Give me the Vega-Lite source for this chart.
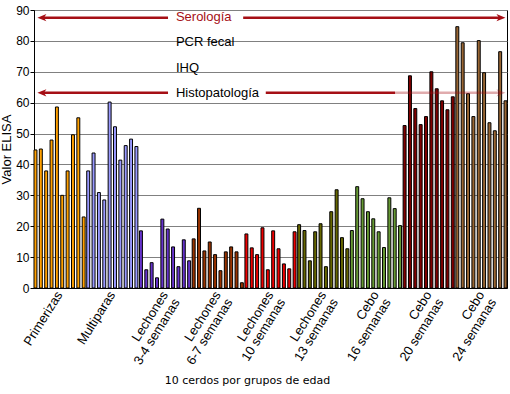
{
  "$schema": "https://vega.github.io/schema/vega-lite/v6.json",
  "width": 473,
  "height": 278,
  "autosize": {"type": "none"},
  "padding": {"left": 34, "top": 10, "right": 3, "bottom": 106},
  "background": "white",
  "config": {
    "view": {"stroke": "black", "strokeWidth": 1},
    "font": "Liberation Sans",
    "axisY": {
      "tickCount": 9,
      "grid": true,
      "gridColor": "#808080",
      "gridOpacity": 1,
      "tickColor": "black",
      "tickSize": 4,
      "domainColor": "black",
      "labelFont": "Liberation Sans",
      "labelFontSize": 12,
      "labelColor": "black",
      "labelPadding": 1,
      "labelOverlap": false,
      "labelFlush": false,
      "titleFont": "Liberation Sans",
      "titleFontSize": 13,
      "titleFontWeight": "normal",
      "titleColor": "black",
      "titlePadding": 2
    }
  },
  "datasets": {
    "elisa": [
      {"grupo": "Primerizas", "cerdo": 1, "elisa": 44.7},
      {"grupo": "Primerizas", "cerdo": 2, "elisa": 45.0},
      {"grupo": "Primerizas", "cerdo": 3, "elisa": 37.9},
      {"grupo": "Primerizas", "cerdo": 4, "elisa": 47.9},
      {"grupo": "Primerizas", "cerdo": 5, "elisa": 58.6},
      {"grupo": "Primerizas", "cerdo": 6, "elisa": 30.0},
      {"grupo": "Primerizas", "cerdo": 7, "elisa": 37.9},
      {"grupo": "Primerizas", "cerdo": 8, "elisa": 49.6},
      {"grupo": "Primerizas", "cerdo": 9, "elisa": 55.1},
      {"grupo": "Primerizas", "cerdo": 10, "elisa": 23.0},
      {"grupo": "Multiparas", "cerdo": 1, "elisa": 37.9},
      {"grupo": "Multiparas", "cerdo": 2, "elisa": 43.7},
      {"grupo": "Multiparas", "cerdo": 3, "elisa": 30.9},
      {"grupo": "Multiparas", "cerdo": 4, "elisa": 28.5},
      {"grupo": "Multiparas", "cerdo": 5, "elisa": 60.2},
      {"grupo": "Multiparas", "cerdo": 6, "elisa": 52.2},
      {"grupo": "Multiparas", "cerdo": 7, "elisa": 41.4},
      {"grupo": "Multiparas", "cerdo": 8, "elisa": 46.1},
      {"grupo": "Multiparas", "cerdo": 9, "elisa": 48.2},
      {"grupo": "Multiparas", "cerdo": 10, "elisa": 45.8},
      {"grupo": "Lechones\n3-4 semanas", "cerdo": 1, "elisa": 18.5},
      {"grupo": "Lechones\n3-4 semanas", "cerdo": 2, "elisa": 5.9},
      {"grupo": "Lechones\n3-4 semanas", "cerdo": 3, "elisa": 8.2},
      {"grupo": "Lechones\n3-4 semanas", "cerdo": 4, "elisa": 3.3},
      {"grupo": "Lechones\n3-4 semanas", "cerdo": 5, "elisa": 22.3},
      {"grupo": "Lechones\n3-4 semanas", "cerdo": 6, "elisa": 19.1},
      {"grupo": "Lechones\n3-4 semanas", "cerdo": 7, "elisa": 13.3},
      {"grupo": "Lechones\n3-4 semanas", "cerdo": 8, "elisa": 6.9},
      {"grupo": "Lechones\n3-4 semanas", "cerdo": 9, "elisa": 15.6},
      {"grupo": "Lechones\n3-4 semanas", "cerdo": 10, "elisa": 8.8},
      {"grupo": "Lechones\n6-7 semanas", "cerdo": 1, "elisa": 15.9},
      {"grupo": "Lechones\n6-7 semanas", "cerdo": 2, "elisa": 25.8},
      {"grupo": "Lechones\n6-7 semanas", "cerdo": 3, "elisa": 12.0},
      {"grupo": "Lechones\n6-7 semanas", "cerdo": 4, "elisa": 14.9},
      {"grupo": "Lechones\n6-7 semanas", "cerdo": 5, "elisa": 10.8},
      {"grupo": "Lechones\n6-7 semanas", "cerdo": 6, "elisa": 5.6},
      {"grupo": "Lechones\n6-7 semanas", "cerdo": 7, "elisa": 11.7},
      {"grupo": "Lechones\n6-7 semanas", "cerdo": 8, "elisa": 13.3},
      {"grupo": "Lechones\n6-7 semanas", "cerdo": 9, "elisa": 11.7},
      {"grupo": "Lechones\n6-7 semanas", "cerdo": 10, "elisa": 1.7},
      {"grupo": "Lechones\n10 semanas", "cerdo": 1, "elisa": 17.5},
      {"grupo": "Lechones\n10 semanas", "cerdo": 2, "elisa": 13.0},
      {"grupo": "Lechones\n10 semanas", "cerdo": 3, "elisa": 10.8},
      {"grupo": "Lechones\n10 semanas", "cerdo": 4, "elisa": 19.5},
      {"grupo": "Lechones\n10 semanas", "cerdo": 5, "elisa": 5.9},
      {"grupo": "Lechones\n10 semanas", "cerdo": 6, "elisa": 18.5},
      {"grupo": "Lechones\n10 semanas", "cerdo": 7, "elisa": 12.7},
      {"grupo": "Lechones\n10 semanas", "cerdo": 8, "elisa": 7.8},
      {"grupo": "Lechones\n10 semanas", "cerdo": 9, "elisa": 6.2},
      {"grupo": "Lechones\n10 semanas", "cerdo": 10, "elisa": 18.2},
      {"grupo": "Lechones\n13 semanas", "cerdo": 1, "elisa": 20.5},
      {"grupo": "Lechones\n13 semanas", "cerdo": 2, "elisa": 18.6},
      {"grupo": "Lechones\n13 semanas", "cerdo": 3, "elisa": 8.8},
      {"grupo": "Lechones\n13 semanas", "cerdo": 4, "elisa": 18.2},
      {"grupo": "Lechones\n13 semanas", "cerdo": 5, "elisa": 20.8},
      {"grupo": "Lechones\n13 semanas", "cerdo": 6, "elisa": 6.9},
      {"grupo": "Lechones\n13 semanas", "cerdo": 7, "elisa": 24.7},
      {"grupo": "Lechones\n13 semanas", "cerdo": 8, "elisa": 31.8},
      {"grupo": "Lechones\n13 semanas", "cerdo": 9, "elisa": 16.3},
      {"grupo": "Lechones\n13 semanas", "cerdo": 10, "elisa": 12.7},
      {"grupo": "Cebo\n16 semanas", "cerdo": 1, "elisa": 18.6},
      {"grupo": "Cebo\n16 semanas", "cerdo": 2, "elisa": 32.8},
      {"grupo": "Cebo\n16 semanas", "cerdo": 3, "elisa": 28.9},
      {"grupo": "Cebo\n16 semanas", "cerdo": 4, "elisa": 24.7},
      {"grupo": "Cebo\n16 semanas", "cerdo": 5, "elisa": 22.4},
      {"grupo": "Cebo\n16 semanas", "cerdo": 6, "elisa": 18.2},
      {"grupo": "Cebo\n16 semanas", "cerdo": 7, "elisa": 13.1},
      {"grupo": "Cebo\n16 semanas", "cerdo": 8, "elisa": 29.2},
      {"grupo": "Cebo\n16 semanas", "cerdo": 9, "elisa": 25.7},
      {"grupo": "Cebo\n16 semanas", "cerdo": 10, "elisa": 20.2},
      {"grupo": "Cebo\n20 semanas", "cerdo": 1, "elisa": 52.6},
      {"grupo": "Cebo\n20 semanas", "cerdo": 2, "elisa": 68.7},
      {"grupo": "Cebo\n20 semanas", "cerdo": 3, "elisa": 58.1},
      {"grupo": "Cebo\n20 semanas", "cerdo": 4, "elisa": 52.9},
      {"grupo": "Cebo\n20 semanas", "cerdo": 5, "elisa": 55.5},
      {"grupo": "Cebo\n20 semanas", "cerdo": 6, "elisa": 70.0},
      {"grupo": "Cebo\n20 semanas", "cerdo": 7, "elisa": 64.5},
      {"grupo": "Cebo\n20 semanas", "cerdo": 8, "elisa": 60.6},
      {"grupo": "Cebo\n20 semanas", "cerdo": 9, "elisa": 57.7},
      {"grupo": "Cebo\n20 semanas", "cerdo": 10, "elisa": 61.9},
      {"grupo": "Cebo\n24 semanas", "cerdo": 1, "elisa": 84.6},
      {"grupo": "Cebo\n24 semanas", "cerdo": 2, "elisa": 79.4},
      {"grupo": "Cebo\n24 semanas", "cerdo": 3, "elisa": 62.9},
      {"grupo": "Cebo\n24 semanas", "cerdo": 4, "elisa": 55.5},
      {"grupo": "Cebo\n24 semanas", "cerdo": 5, "elisa": 80.1},
      {"grupo": "Cebo\n24 semanas", "cerdo": 6, "elisa": 69.7},
      {"grupo": "Cebo\n24 semanas", "cerdo": 7, "elisa": 53.5},
      {"grupo": "Cebo\n24 semanas", "cerdo": 8, "elisa": 50.9},
      {"grupo": "Cebo\n24 semanas", "cerdo": 9, "elisa": 76.5},
      {"grupo": "Cebo\n24 semanas", "cerdo": 10, "elisa": 60.6}
    ],
    "segmentos": [
      {"prueba": "Serología", "x0": 1.5, "x1": 25.5, "v": 87.5, "tramo": "opaco"},
      {"prueba": "Serología", "x0": 39.8, "x1": 88.8, "v": 87.5, "tramo": "opaco"},
      {"prueba": "Histopatología", "x0": 1.5, "x1": 25.5, "v": 63.2, "tramo": "opaco"},
      {"prueba": "Histopatología", "x0": 44.1, "x1": 68.7, "v": 63.2, "tramo": "opaco"},
      {"prueba": "Histopatología", "x0": 68.7, "x1": 88.8, "v": 63.2, "tramo": "tenue"}
    ],
    "puntas": [
      {"prueba": "Serología", "x": 1.5, "v": 87.5, "dir": "izq", "tramo": "opaco"},
      {"prueba": "Serología", "x": 88.85, "v": 87.5, "dir": "der", "tramo": "opaco"},
      {"prueba": "Histopatología", "x": 1.5, "v": 63.2, "dir": "izq", "tramo": "opaco"},
      {"prueba": "Histopatología", "x": 88.85, "v": 63.2, "dir": "der", "tramo": "tenue"}
    ],
    "rotulos": [
      {"prueba": "Serología", "x": 27.0, "v": 87.6},
      {"prueba": "PCR fecal", "x": 27.0, "v": 79.7},
      {"prueba": "IHQ", "x": 27.0, "v": 71.3},
      {"prueba": "Histopatología", "x": 27.0, "v": 63.1}
    ]
  },
  "layer": [
    {
      "data": {"name": "elisa"},
      "mark": {"type": "bar", "stroke": "black", "strokeWidth": 1},
      "encoding": {
        "x": {
          "field": "grupo", "type": "nominal", "sort": null,
          "scale": {"paddingInner": 0.03, "paddingOuter": 0},
          "axis": {
            "title": "10 cerdos por grupos de edad",
            "labelExpr": "split(datum.label, '\\n')",
            "labelAngle": -58,
            "labelAlign": "right",
            "labelBaseline": "middle",
            "labelFont": "Liberation Sans",
            "labelFontSize": 13,
            "labelLineHeight": 14,
            "labelColor": "black",
            "labelPadding": 4,
            "labelOverlap": false,
            "ticks": false,
            "domainColor": "black",
            "titleFont": "DejaVu Sans",
            "titleFontSize": 11,
            "titleFontWeight": "normal",
            "titleColor": "black",
            "titleX": 213,
            "titleY": 92,
            "titleBaseline": "middle"
          }
        },
        "xOffset": {"field": "cerdo", "type": "ordinal", "scale": {"paddingInner": 0.45, "paddingOuter": 0}},
        "y": {
          "field": "elisa", "type": "quantitative",
          "scale": {"domain": [0, 90], "nice": false},
          "axis": {"title": "Valor ELISA", "tickCount": 9}
        },
        "color": {
          "field": "grupo", "type": "nominal", "sort": null,
          "scale": {
            "domain": ["Primerizas", "Multiparas", "Lechones\n3-4 semanas", "Lechones\n6-7 semanas", "Lechones\n10 semanas", "Lechones\n13 semanas", "Cebo\n16 semanas", "Cebo\n20 semanas", "Cebo\n24 semanas"],
            "range": ["#FFA000", "#9999FF", "#6633CC", "#993300", "#EE0000", "#666600", "#669933", "#800000", "#996633"]
          },
          "legend": null
        }
      }
    },
    {
      "data": {"name": "segmentos"},
      "mark": {"type": "rule", "strokeWidth": 2.5, "color": "#A50F15"},
      "encoding": {
        "x": {"field": "x0", "type": "quantitative", "scale": {"domain": [0, 90], "nice": false, "zero": false}, "axis": null},
        "x2": {"field": "x1"},
        "y": {"field": "v", "type": "quantitative", "scale": {"domain": [0, 90], "nice": false}, "axis": {"title": "Valor ELISA", "tickCount": 9}},
        "opacity": {"field": "tramo", "type": "nominal", "scale": {"domain": ["opaco", "tenue"], "range": [1, 0.35]}, "legend": null}
      }
    },
    {
      "data": {"name": "puntas"},
      "mark": {"type": "point", "filled": true, "size": 81, "color": "#A50F15"},
      "encoding": {
        "x": {"field": "x", "type": "quantitative", "scale": {"domain": [0, 90], "nice": false, "zero": false}, "axis": null},
        "y": {"field": "v", "type": "quantitative", "scale": {"domain": [0, 90], "nice": false}, "axis": {"title": "Valor ELISA", "tickCount": 9}},
        "shape": {"field": "dir", "type": "nominal", "scale": {"domain": ["izq", "der"], "range": ["M-1,0L1,-0.8L0.45,0L1,0.8Z", "M1,0L-1,-0.8L-0.45,0L-1,0.8Z"]}, "legend": null},
        "opacity": {"field": "tramo", "type": "nominal", "scale": {"domain": ["opaco", "tenue"], "range": [1, 0.35]}, "legend": null}
      }
    },
    {
      "data": {"name": "rotulos"},
      "mark": {"type": "text", "align": "left", "baseline": "middle", "font": "Liberation Sans", "fontSize": 13},
      "encoding": {
        "x": {"field": "x", "type": "quantitative", "scale": {"domain": [0, 90], "nice": false, "zero": false}, "axis": null},
        "y": {"field": "v", "type": "quantitative", "scale": {"domain": [0, 90], "nice": false}, "axis": {"title": "Valor ELISA", "tickCount": 9}},
        "text": {"field": "prueba"},
        "color": {"field": "prueba", "type": "nominal", "scale": {"domain": ["Serología", "PCR fecal", "IHQ", "Histopatología"], "range": ["#A50F15", "black", "black", "black"]}, "legend": null}
      }
    }
  ],
  "resolve": {"scale": {"x": "independent", "color": "independent"}}
}
